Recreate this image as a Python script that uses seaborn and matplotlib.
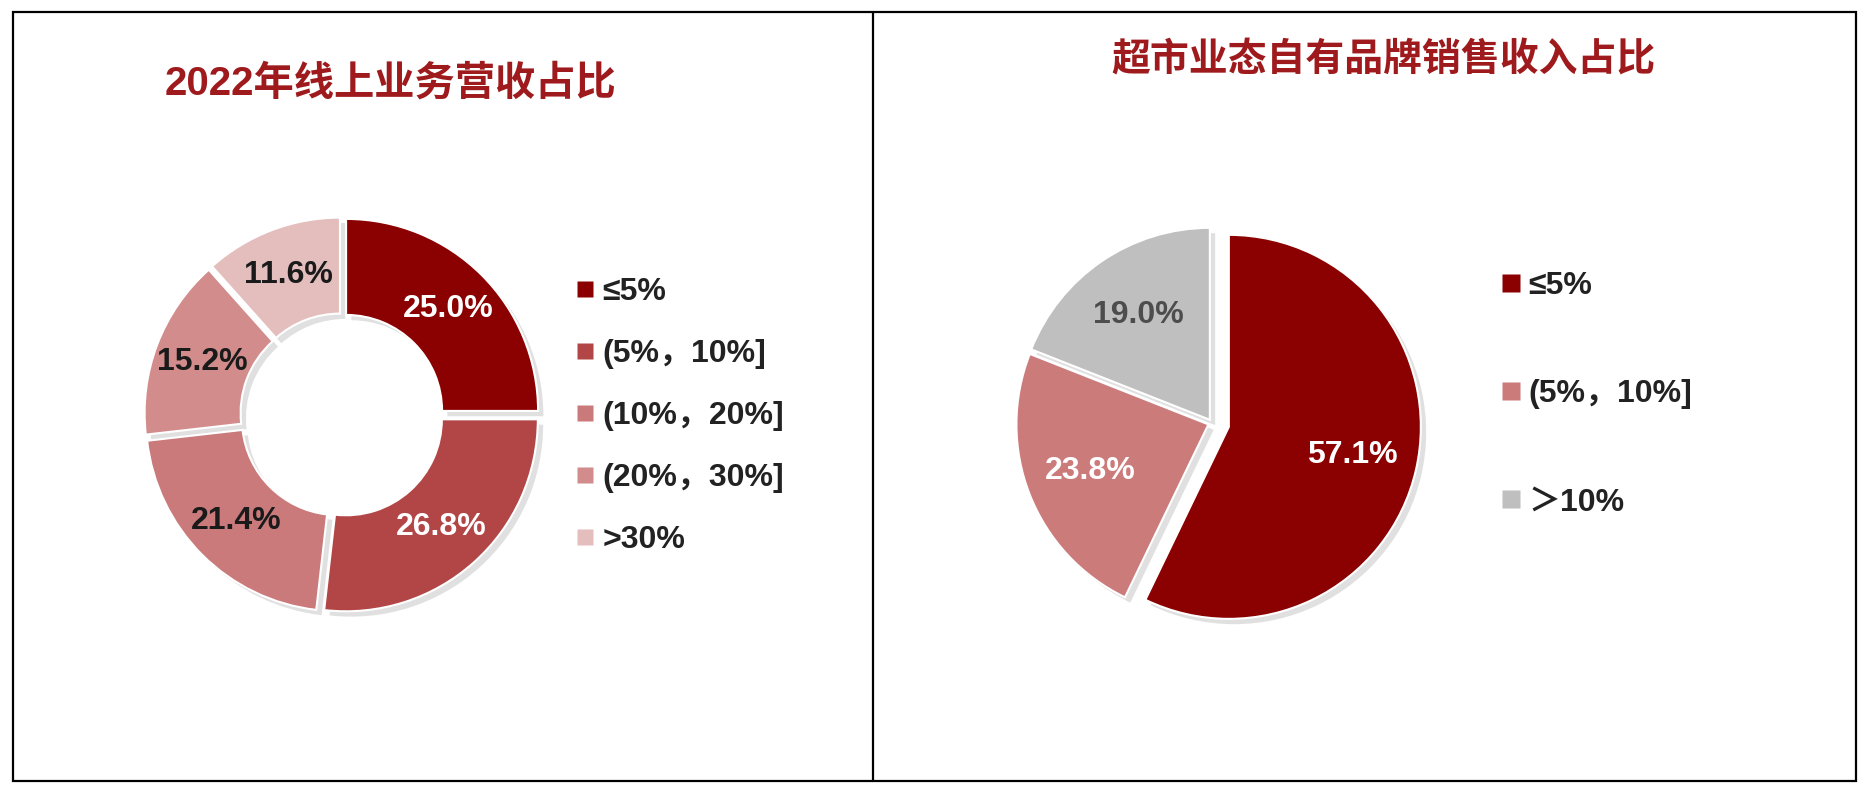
import matplotlib
matplotlib.use('Agg')
import matplotlib.pyplot as plt
import seaborn as sns
from matplotlib.lines import Line2D
from matplotlib.patches import Rectangle

# 2022 online revenue share (donut)
online_labels = ['≤5%', '(5%，10%]', '(10%，20%]', '(20%，30%]', '>30%']
online_share = [25.0, 26.8, 21.4, 15.2, 11.6]
online_colors = ['#8b0000', '#b24646', '#ca7a7a', '#d28c8c', '#e4bdbd']
online_text = ['white', 'white', '#1a1a1a', '#1a1a1a', '#1a1a1a']

# private label share of supermarket sales (pie)
brand_labels = ['≤5%', '(5%，10%]', '＞10%']
brand_share = [57.1, 23.8, 19.0]
brand_colors = ['#8b0000', '#cc7b7b', '#bfbfbf']
brand_text = ['white', 'white', '#4d4d4d']

titleColor = '#9e1a1d'

sns.set_theme(style='white')
plt.rcParams['font.family'] = ['Liberation Sans', 'Noto Sans CJK SC']

W, H = 1871, 790
fig = plt.figure(figsize=(W / 100, H / 100), dpi=100)
fig.patch.set_facecolor('white')


def pxAxes(cx, cy, r, lim=1.25):
    """Square axes centred on pixel (cx, cy) where radius 1 spans r pixels."""
    side = 2 * lim * r
    ax = fig.add_axes([(cx - side / 2) / W, (H - cy - side / 2) / H, side / W, side / H])
    return ax


def drawPie(ax, shares, colors, textColors, explode, width, labeldist):
    wedges, texts = ax.pie(
        shares,
        labels=[f'{v:.1f}%' for v in shares],
        colors=colors,
        startangle=90,
        counterclock=False,
        explode=explode,
        labeldistance=labeldist,
        wedgeprops=dict(width=width, edgecolor='white', linewidth=1.5),
        textprops=dict(ha='center', va='center', fontsize=23, fontweight='bold'),
        shadow=dict(ox=0.02, oy=-0.02, facecolor='#9a9a9a', edgecolor='none', alpha=0.3),
    )
    for t, c in zip(texts, textColors):
        t.set_color(c)
    ax.set_xlim(-1.25, 1.25)
    ax.set_ylim(-1.25, 1.25)
    ax.set_aspect('equal')
    ax.axis('off')
    return wedges


def addLegend(labels, colors, x, y, spacing, msize):
    handles = [Line2D([], [], marker='s', linestyle='none', markersize=msize,
                      markerfacecolor=c, markeredgecolor='none') for c in colors]
    fig.legend(handles, labels, loc='center left', bbox_to_anchor=(x / W, 1 - y / H),
               frameon=False, prop={'size': 23, 'weight': 'bold'}, labelcolor='#222222',
               labelspacing=spacing, handlelength=0.6, handletextpad=0.25,
               borderpad=0, borderaxespad=0)


# left donut
ax1 = pxAxes(342, 415, 192)
drawPie(ax1, online_share, online_colors, online_text, [0.03] * 5, 0.5, 0.75)
addLegend(online_labels, online_colors, 575, 416, 1.0, 12)
fig.text(390 / W, 1 - 83 / H, '2022年线上业务营收占比', ha='center', va='center',
         fontsize=29, fontweight='bold', color=titleColor)

# right pie
ax2 = pxAxes(1212, 423, 192)
drawPie(ax2, brand_share, brand_colors, brand_text, [0.09, 0.02, 0.02], 1, 0.66)
addLegend(brand_labels, brand_colors, 1501, 394, 2.45, 13)
fig.text(1383 / W, 1 - 61 / H, '超市业态自有品牌销售收入占比', ha='center', va='center',
         fontsize=28, fontweight='bold', color=titleColor)

# panel frame
fig.add_artist(Rectangle((13 / W, 1 - 781 / H), (1856 - 13) / W, (781 - 12) / H,
                         transform=fig.transFigure, fill=False, lw=1.6, ec='black'))
fig.add_artist(Line2D([873 / W, 873 / W], [1 - 781 / H, 1 - 12 / H],
                      transform=fig.transFigure, lw=1.6, color='black'))

fig.savefig('out.png', dpi=100)
